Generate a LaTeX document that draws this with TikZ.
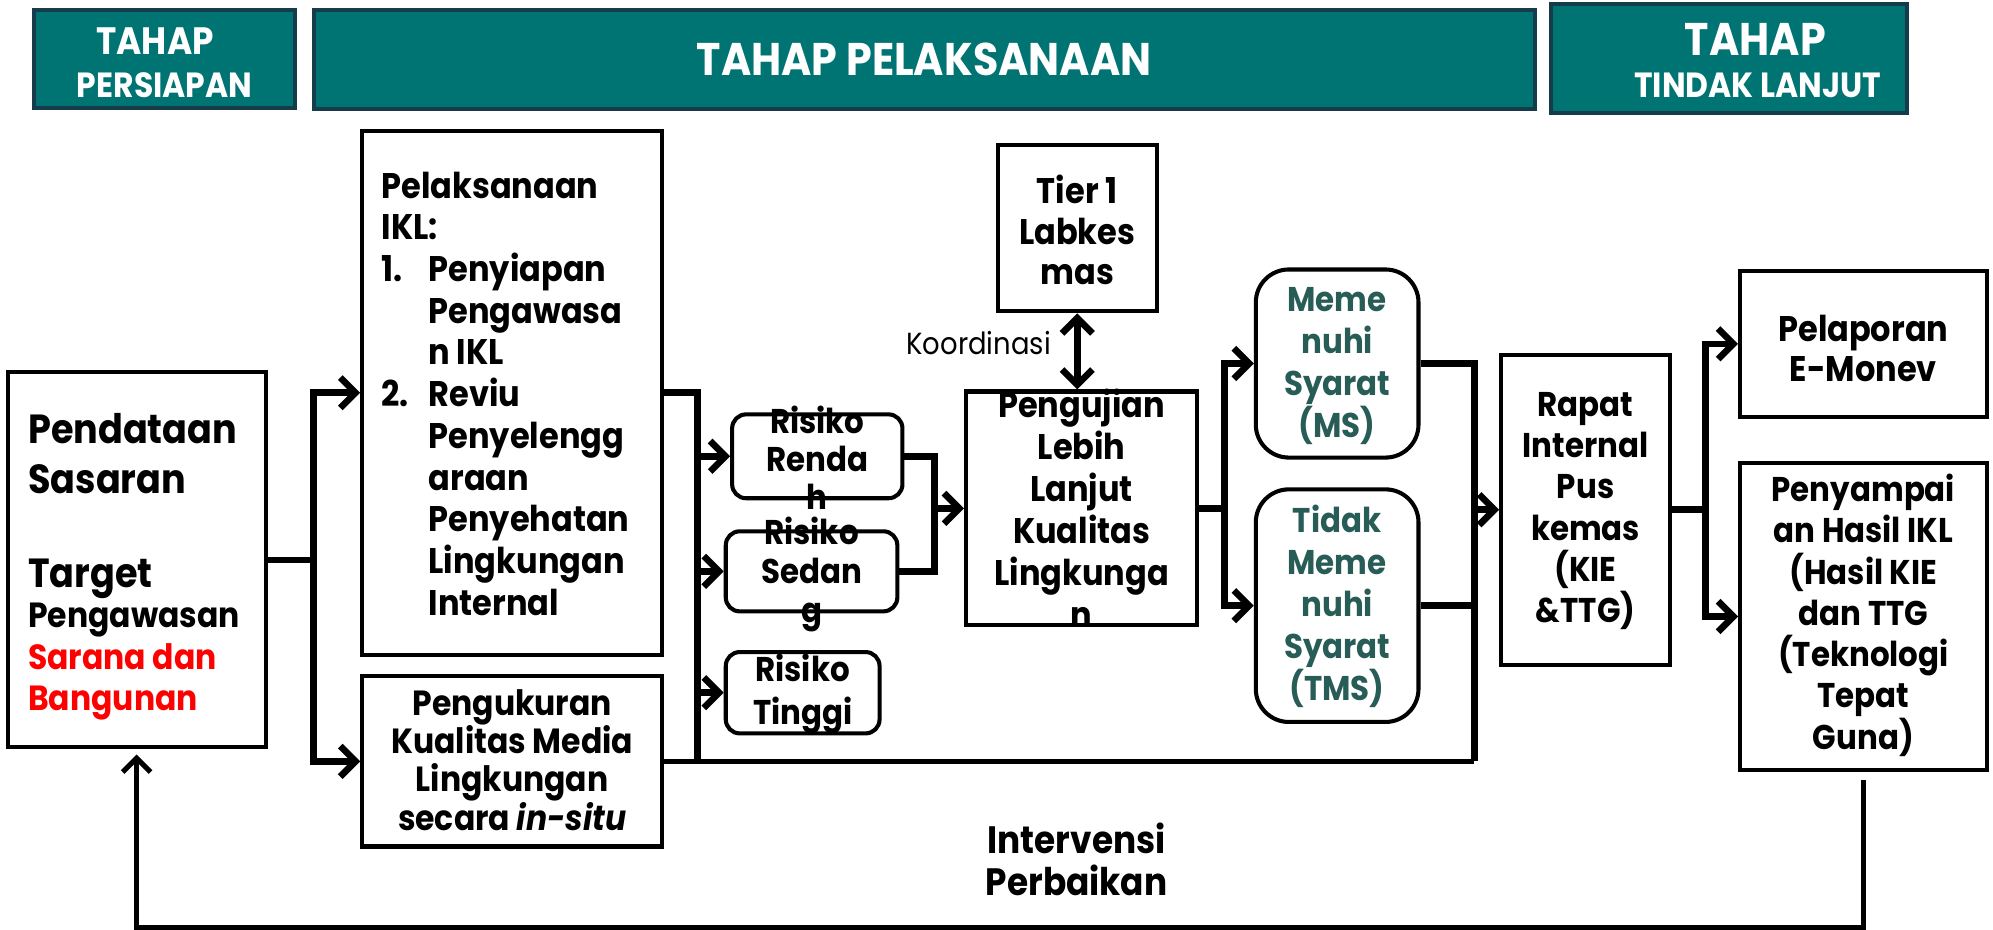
\documentclass[tikz,border=0pt]{standalone}
\usepackage{fontspec}
\setmainfont{Poppins}[FakeStretch=0.9]
\usetikzlibrary{arrows.meta,calc}
\definecolor{teal1}{RGB}{0,115,115}
\definecolor{hdrborder}{RGB}{22,60,75}
\definecolor{mstext}{RGB}{40,92,86}
\definecolor{redtxt}{RGB}{255,0,0}
\begin{document}
\begin{tikzpicture}[x=1pt,y=-1pt,
 box/.style={draw=black,line width=3.2pt,inner sep=0pt},
 rbox/.style={box,rounded corners=11pt},
 hdr/.style={draw=hdrborder,fill=teal1,line width=3.2pt,inner sep=0pt},
 txt/.style={inner sep=0pt,align=center,font=\bfseries\fontsize{28}{33}\selectfont},
 ltxt/.style={inner sep=0pt,anchor=base west,font=\bfseries\fontsize{32}{36}\selectfont},
 stxt/.style={inner sep=0pt,anchor=base west,font=\bfseries\fontsize{27.5}{33}\selectfont},
 hdrtxt/.style={inner sep=0pt,text=white,font=\bfseries\fontsize{30}{32}\selectfont},
 subhdr/.style={hdrtxt,font=\bfseries\fontsize{27.5}{30}\selectfont},
 conn/.style={line width=5.2pt,draw=black},
 tip/.tip={Straight Barb[length=12pt,width=24pt]},
 arr/.style={conn,-tip},
]
\useasboundingbox (0,0) rectangle (1568,731);

% headers
\node[hdr,minimum width=205pt,minimum height=77pt] (h1) at (129.5,46.5) {};
\node[hdrtxt] (h1a) at (122,32) {TAHAP};
\node[subhdr] (h1b) at (129.5,67) {PERSIAPAN};
\node[hdr,minimum width=961pt,minimum height=78pt] (h2) at (727.5,47) {};
\node[hdrtxt,font=\bfseries\fontsize{36}{38}\selectfont] (h2a) at (727,47) {TAHAP PELAKSANAAN};
\node[hdr,minimum width=280pt,minimum height=86pt] (h3) at (1360,46) {};
\node[hdrtxt,font=\bfseries\fontsize{36}{38}\selectfont] (h3a) at (1381,31) {TAHAP};
\node[subhdr] (h3b) at (1383,67) {TINDAK LANJUT};

% boxes
\node[box,minimum width=203pt,minimum height=295pt] (pend) at (107.5,440.5) {};
\node[ltxt] (pt1) at (22,349) {Pendataan};
\node[ltxt] (pt2) at (22,388) {Sasaran};
\node[ltxt] (pt3) at (22,462) {Target};
\node[stxt] (pt4) at (22,494) {Pengawasan};
\node[stxt,text=redtxt] (pt5) at (22,527) {Sarana dan};
\node[stxt,text=redtxt] (pt6) at (22,559) {Bangunan};

\node[box,minimum width=236pt,minimum height=412pt] (pel) at (403,309) {};
\node[txt,align=left,anchor=north west,font=\bfseries\fontsize{28}{32.8}\selectfont] (tpel) at (300,135) {Pelaksanaan\\IKL:\\\makebox[37pt][l]{1.}Penyiapan\\\hspace*{37pt}Pengawasa\\\hspace*{37pt}n IKL\\\makebox[37pt][l]{2.}Reviu\\\hspace*{37pt}Penyelengg\\\hspace*{37pt}araan\\\hspace*{37pt}Penyehatan\\\hspace*{37pt}Lingkungan\\\hspace*{37pt}Internal};

\node[box,minimum width=236pt,minimum height=134pt] (ukur) at (403,599) {};
\node[txt,font=\bfseries\fontsize{27.5}{30}\selectfont] (tukur) at (403,598) {Pengukuran\\Kualitas Media\\Lingkungan\\secara \textit{in-situ}};

\node[rbox,minimum width=134pt,minimum height=66pt] (rr) at (643,359) {};
\node[txt,font=\bfseries\fontsize{27}{30}\selectfont] (trr) at (643,360) {Risiko\\Renda\\h};
\node[rbox,minimum width=135pt,minimum height=63pt] (rs) at (638.5,449.5) {};
\node[txt,font=\bfseries\fontsize{27}{31}\selectfont] (trs) at (638.5,452) {Risiko\\Sedan\\g};
\node[rbox,minimum width=121pt,minimum height=64pt] (rt) at (631.5,545) {};
\node[txt,font=\bfseries\fontsize{27}{34}\selectfont] (trt) at (631.5,546) {Risiko\\Tinggi};

\node[box,minimum width=125pt,minimum height=131pt] (tier) at (847.5,179.5) {};
\node[txt,font=\bfseries\fontsize{28}{32}\selectfont] (ttier) at (847.5,181) {Tier 1\\Labkes\\mas};
\node[box,minimum width=182pt,minimum height=184pt] (uji) at (851,400) {};
\node[txt] (tuji) at (851,400) {Pengujian\\Lebih\\Lanjut\\Kualitas\\Lingkunga\\n};
\node[inner sep=0pt,font=\fontsize{24}{26}\selectfont] (koord) at (770,270) {Koordinasi};

\node[box,rounded corners=26pt,minimum width=128pt,minimum height=148pt] (ms) at (1052,286) {};
\node[txt,text=mstext,font=\bfseries\fontsize{27}{33}\selectfont] (tms1) at (1052,288) {Meme\\nuhi\\Syarat\\(MS)};
\node[box,rounded corners=26pt,minimum width=128pt,minimum height=183pt] (tms) at (1052,476.5) {};
\node[txt,text=mstext,font=\bfseries\fontsize{27}{33}\selectfont] (ttms) at (1052,477) {Tidak\\Meme\\nuhi\\Syarat\\(TMS)};

\node[box,minimum width=133pt,minimum height=244pt] (rapat) at (1247.5,401) {};
\node[txt,font=\bfseries\fontsize{27}{32.5}\selectfont] (trapat) at (1247.5,402) {Rapat\\Internal\\Pus\\kemas\\(KIE\\\&TTG)};

\node[box,minimum width=194pt,minimum height=115pt] (lapor) at (1466,270.5) {};
\node[txt,font=\bfseries\fontsize{28}{31}\selectfont] (tlapor) at (1466,274) {Pelaporan\\E-Monev};
\node[box,minimum width=194pt,minimum height=242pt] (sampai) at (1466,485) {};
\node[txt,font=\bfseries\fontsize{27}{32.5}\selectfont] (tsampai) at (1466,484) {Penyampai\\an Hasil IKL\\(Hasil KIE\\dan TTG\\(Teknologi\\Tepat\\Guna)};

\node[txt,font=\bfseries\fontsize{30}{33}\selectfont] (interv) at (847,676) {Intervensi\\Perbaikan};

% connectors
\draw[conn] (pend.east) -- ++(36,0) coordinate (j1);
\draw[arr] (j1) |- (pel.west);
\draw[arr] (j1) |- (ukur.west);

\draw[conn] (pel.east) -- ++(26,0) coordinate (j2) -- (j2 |- ukur.east);
\draw[arr] (j2 |- rr.west) -- (rr.west);
\draw[arr] (j2 |- rs.west) -- (rs.west);
\draw[arr] (j2 |- rt.west) -- (rt.west);

\coordinate (j3) at (735,400);
\draw[conn] (rr.east) -| (j3);
\draw[conn] (rs.east) -| (j3);
\draw[arr] (j3) -- (uji.west);

\draw[conn,tip-tip] (tier.south) -- (tier.south |- uji.north);

\draw[conn] (uji.east) -- ++(20,0) coordinate (j5);
\draw[arr] (j5) |- (ms.west);
\draw[arr] (j5) |- (tms.west);

\coordinate (j4) at (1160,401);
\draw[conn] (ms.east) -- (ms.east -| j4) -- (j4 |- ukur.east);
\draw[conn] (tms.east) -- (tms.east -| j4);
\draw[line width=3.4pt] (ukur.east) -- (ukur.east -| j4);
\draw[arr] (j4) -- (rapat.west);

\draw[conn] (rapat.east) -- ++(26,0) coordinate (j6);
\draw[arr] (j6) |- (lapor.west);
\draw[arr] (j6) |- (sampai.west);

\draw[line width=4pt,-{Straight Barb[length=11pt,width=22pt]},shorten >=4pt] ($(sampai.south)+(0,6)$) -- ++(0,116) -| (pend.south);
\end{tikzpicture}
\end{document}
